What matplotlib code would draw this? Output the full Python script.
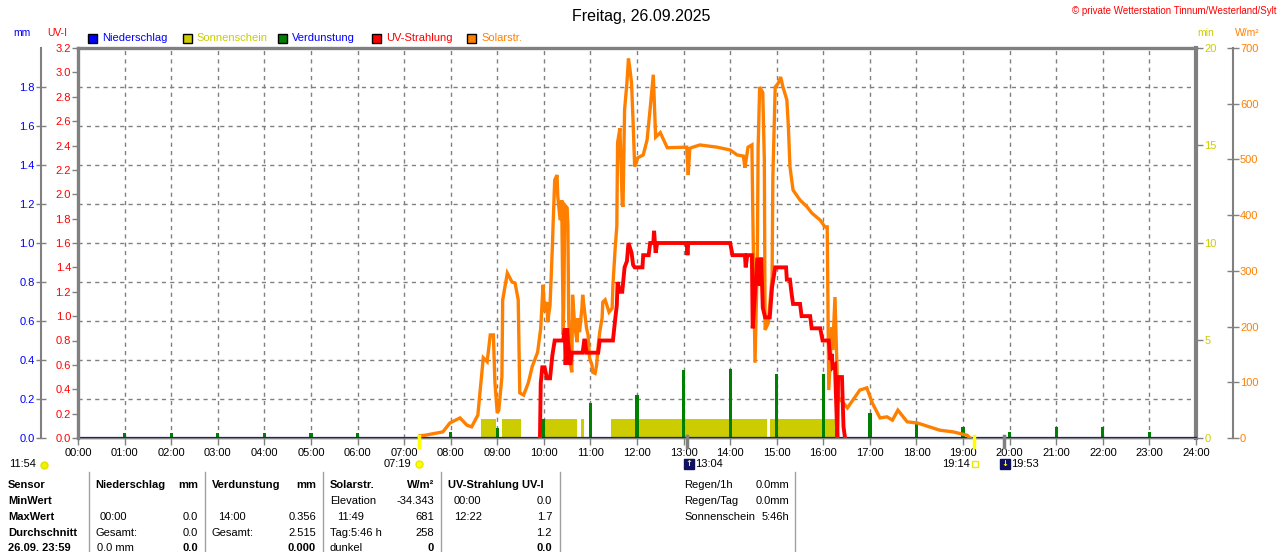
import matplotlib
matplotlib.use("Agg")
import matplotlib.pyplot as plt
import matplotlib.transforms as mtransforms
from matplotlib.patches import Rectangle
from matplotlib.lines import Line2D

plt.rcParams['font.family'] = ['Liberation Sans', 'DejaVu Sans']

# ---------------- data ----------------
TITLE = "Freitag, 26.09.2025"
COPYRIGHT = "© private Wetterstation Tinnum/Westerland/Sylt"

hour_labels = [f"{h:02d}:00" for h in range(25)]
mm_ticks = [0.0, 0.2, 0.4, 0.6, 0.8, 1.0, 1.2, 1.4, 1.6, 1.8]
uv_ticks = [0.0, 0.2, 0.4, 0.6, 0.8, 1.0, 1.2, 1.4, 1.6, 1.8, 2.0, 2.2, 2.4,
            2.6, 2.8, 3.0, 3.2]
min_ticks = [0, 5, 10, 15, 20]
wm2_ticks = [0, 100, 200, 300, 400, 500, 600, 700]

rain_times = ["00:00", "24:00"]
rain_values = [0.0, 0.0]

evap_times = ["01:00", "02:00", "03:00", "04:00", "05:00", "06:00", "08:00",
              "09:00", "10:00", "11:00", "12:00", "13:00", "14:00", "15:00",
              "16:00", "17:00", "18:00", "19:00", "20:00", "21:00", "22:00",
              "23:00"]
evap_values = [0.025, 0.025, 0.025, 0.025, 0.025, 0.025, 0.03, 0.05, 0.10,
               0.18, 0.22, 0.35, 0.356, 0.33, 0.33, 0.13, 0.08, 0.056, 0.03,
               0.055, 0.055, 0.03]

sun_start = ["08:39", "09:06", "10:00", "10:48", "11:27", "14:51"]
sun_end = ["08:59", "09:31", "10:43", "10:52", "14:48", "16:18"]
sun_minutes = [1, 1, 1, 1, 1, 1]

solar_times = ["07:19", "07:20", "07:27", "07:50", "07:59", "08:12", "08:21",
               "08:27", "08:35", "08:39", "08:42", "08:47", "08:51", "08:55",
               "08:57", "09:00", "09:02", "09:06", "09:07", "09:13", "09:19",
               "09:23", "09:27", "09:29", "09:34", "09:40", "09:45", "09:49",
               "09:52", "09:56", "09:59", "10:01", "10:04", "10:05", "10:08",
               "10:11", "10:12", "10:14", "10:17", "10:18", "10:21", "10:23",
               "10:25", "10:26", "10:27", "10:30", "10:31", "10:32", "10:34",
               "10:36", "10:37", "10:40", "10:43", "10:44", "10:46", "10:49",
               "10:50", "10:53", "10:55", "10:57", "10:59", "11:02", "11:03",
               "11:06", "11:08", "11:10", "11:12", "11:15", "11:16", "11:19",
               "11:21", "11:24", "11:28", "11:29", "11:32", "11:34", "11:35",
               "11:38", "11:41", "11:42", "11:44", "11:47", "11:49", "11:51",
               "11:53", "11:55", "11:57", "12:01", "12:08", "12:13", "12:17",
               "12:21", "12:24", "12:30", "12:39", "13:00", "13:04", "13:06",
               "13:08", "13:12", "13:21", "13:43", "14:00", "14:09", "14:17",
               "14:19", "14:23", "14:28", "14:29", "14:32", "14:35", "14:36",
               "14:38", "14:42", "14:44", "14:45", "14:49", "14:54", "14:55",
               "14:58", "15:02", "15:05", "15:08", "15:13", "15:15", "15:17",
               "15:21", "15:30", "15:39", "15:45", "15:56", "16:02", "16:05",
               "16:07", "16:11", "16:12", "16:15", "16:18", "16:19", "16:31",
               "16:38", "16:47", "16:56", "17:03", "17:13", "17:22", "17:29",
               "17:36", "17:48", "18:01", "18:30", "18:47", "19:05", "19:09"]
solar_values = [0, 4, 5, 11, 27, 36, 23,
                20, 41, 99, 144, 137, 185, 185,
                99, 45, 50, 110, 248, 296, 280,
                278, 248, 81, 77, 99, 128, 143,
                154, 197, 275, 226, 244, 208, 239,
                343, 386, 463, 472, 433, 391, 427,
                185, 275, 418, 413, 380, 215, 136,
                118, 257, 197, 172, 215, 190, 233,
                257, 221, 197, 185, 143, 131, 118,
                116, 131, 167, 190, 215, 244, 248,
                239, 226, 233, 275, 343, 380, 530,
                556, 420, 415, 589, 637, 681, 661,
                637, 566, 487, 503, 508, 535, 592,
                652, 540, 548, 521, 522, 522, 472,
                520, 522, 526, 522, 517, 508, 506,
                485, 522, 526, 420, 135, 320, 520,
                630, 620, 500, 194, 206, 289, 469,
                630, 637, 648, 630, 607, 558, 487,
                445, 427, 415, 404, 391, 379, 379,
                86, 199, 158, 253, 104, 74, 54,
                68, 86, 90, 63, 36, 38, 32,
                50, 29, 27, 14, 11, 5, 0]

uv_times = ["09:55", "09:56", "09:58", "10:01", "10:04", "10:08", "10:11",
            "10:14", "10:25", "10:27", "10:28", "10:30", "10:31", "10:34",
            "10:36", "10:50", "10:52", "10:53", "10:55", "11:10", "11:12",
            "11:29", "11:32", "11:34", "11:35", "11:38", "11:41", "11:44",
            "11:47", "11:49", "11:53", "11:55", "11:57", "12:07", "12:08",
            "12:15", "12:17", "12:21", "12:22", "12:24", "12:26", "13:04",
            "13:05", "13:06", "14:00", "14:03", "14:19", "14:20", "14:22",
            "14:28", "14:29", "14:32", "14:35", "14:38", "14:40", "14:42",
            "14:45", "14:51", "14:54", "14:58", "15:12", "15:13", "15:17",
            "15:19", "15:21", "15:30", "15:32", "15:43", "15:45", "15:56",
            "15:59", "16:07", "16:09", "16:11", "16:12", "16:15", "16:18",
            "16:19", "16:24", "16:26", "16:28"]
uv_values = [0.0, 0.45, 0.58, 0.58, 0.49, 0.49, 0.68,
             0.8, 0.8, 0.9, 0.6, 0.9, 0.8, 0.6,
             0.7, 0.7, 0.8, 0.8, 0.7, 0.7, 0.8,
             0.8, 0.98, 1.09, 1.28, 1.2, 1.2, 1.4,
             1.45, 1.6, 1.52, 1.42, 1.4, 1.4, 1.5,
             1.5, 1.6, 1.6, 1.7, 1.52, 1.6, 1.6,
             1.5, 1.6, 1.6, 1.5, 1.5, 1.4, 1.5,
             1.5, 0.9, 1.19, 1.48, 1.25, 1.48, 1.07,
             0.99, 0.99, 1.24, 1.4, 1.4, 1.3, 1.3,
             1.19, 1.1, 1.1, 1.0, 1.0, 0.9, 0.9,
             0.8, 0.8, 0.64, 0.69, 0.58, 0.6, 0.0,
             0.5, 0.5, 0.09, 0.0]

legend_labels = ["Niederschlag", "Sonnenschein", "Verdunstung", "UV-Strahlung", "Solarstr."]

sunrise, sunset = "07:19", "19:14"
moonrise, moonset = "13:04", "19:53"
daylight_label = "11:54"

table_rows = ["Sensor", "MinWert", "MaxWert", "Durchschnitt", "26.09. 23:59"]
side_labels = ["Regen/1h", "Regen/Tag", "Sonnenschein"]
side_values = ["0.0mm", "0.0mm", "5:46h"]


def hrs(s):
    h, m = s.split(":")
    return int(h) + int(m) / 60.0


# ---------------- colours ----------------
C_RAIN = "#0000FF"
C_SUN = "#CCCC00"
C_EVAP = "#008000"
C_UV = "#FF0000"
C_SOL = "#FF8000"
C_GRAY = "#808080"

W, H = 1280, 552


def fx(px):
    return px / W


def fy(py):
    return 1 - py / H


fig = plt.figure(figsize=(12.8, 5.52), dpi=100)
X0, X1, Y0, Y1 = 78, 1196, 48, 438
ax = fig.add_axes([fx(X0), fy(Y1), (X1 - X0) / W, (Y1 - Y0) / H])
ax_min = ax.twinx()
ax_mm = ax.twinx()
ax_w = ax.twinx()
for a, z in [(ax_min, 1), (ax_mm, 2), (ax_w, 3), (ax, 4)]:
    a.set_zorder(z)
    a.patch.set_visible(False)
    for sp in a.spines.values():
        sp.set_visible(False)

ax.set_xlim(0, 24)
ax.set_ylim(0, 3.2)
ax_mm.set_ylim(0, 2.0)
ax_min.set_ylim(0, 20)
ax_w.set_ylim(0, 700)

# grid (on a low layer)
for h in range(1, 24):
    ax_mm.axvline(h, color=C_GRAY, lw=1, ls=(0, (3, 3)), zorder=0)
for v in mm_ticks[1:]:
    ax_mm.axhline(v, color=C_GRAY, lw=1, ls=(0, (3, 3)), zorder=0)

# sunshine bars
starts = [hrs(s) for s in sun_start]
widths = [hrs(e) - hrs(s) for s, e in zip(sun_start, sun_end)]
ax_min.bar(starts, sun_minutes, width=widths, align="edge", color=C_SUN,
           linewidth=0, zorder=1)

# evaporation bars
ax_mm.bar([hrs(t) for t in evap_times], evap_values, width=0.07,
          color=C_EVAP, linewidth=0, zorder=2)
ax_mm.plot([hrs(t) for t in rain_times], rain_values, color="#0000C8",
           lw=1.6, clip_on=False, zorder=3)

# solar
ax_w.plot([hrs(t) for t in solar_times], solar_values, color=C_SOL, lw=2.4,
          solid_joinstyle="miter")
# UV
ax.plot([hrs(t) for t in uv_times], uv_values, color=C_UV, lw=2.8,
        solid_joinstyle="miter")

# ---------------- spines & ticks ----------------
ax.spines["left"].set_visible(True)
ax.spines["left"].set_color(C_GRAY)
ax.spines["left"].set_linewidth(2.4)
ax.spines["top"].set_visible(True)
ax.spines["top"].set_color(C_GRAY)
ax.spines["top"].set_linewidth(2.4)
ax.spines["bottom"].set_visible(True)
ax.spines["bottom"].set_color(C_GRAY)
ax.spines["bottom"].set_linewidth(1)

ax.set_xticks(range(25))
ax.set_xticklabels(hour_labels)
ax.tick_params(axis="x", direction="out", length=5, width=1, color=C_GRAY,
               labelsize=8, pad=2, labelcolor="black")
ax.set_yticks(uv_ticks)
ax.set_yticklabels([f"{v:.1f}" for v in uv_ticks])
ax.tick_params(axis="y", direction="out", length=4, width=1, color=C_GRAY,
               labelcolor=C_UV, labelsize=8, pad=1)

ax_mm.spines["left"].set_visible(True)
ax_mm.spines["left"].set_position(("axes", (41 - X0) / (X1 - X0)))
ax_mm.spines["left"].set_color(C_GRAY)
ax_mm.spines["left"].set_linewidth(1.5)
ax_mm.yaxis.set_ticks_position("left")
ax_mm.yaxis.set_label_position("left")
ax_mm.set_yticks(mm_ticks)
ax_mm.set_yticklabels([f"{v:.1f}" for v in mm_ticks])
ax_mm.tick_params(axis="y", direction="inout", length=7, width=1,
                  color=C_GRAY, labelcolor=C_RAIN, labelsize=8, pad=1)

ax_min.spines["right"].set_visible(True)
ax_min.spines["right"].set_color(C_GRAY)
ax_min.spines["right"].set_linewidth(3)
ax_min.set_yticks(min_ticks)
ax_min.set_yticklabels([str(v) for v in min_ticks])
ax_min.tick_params(axis="y", direction="out", length=5, width=1,
                   color=C_GRAY, labelcolor=C_SUN, labelsize=8, pad=1)

ax_w.spines["right"].set_visible(True)
ax_w.spines["right"].set_position(("axes", (1233 - X0) / (X1 - X0)))
ax_w.spines["right"].set_color(C_GRAY)
ax_w.spines["right"].set_linewidth(1.5)
ax_w.set_yticks(wm2_ticks)
ax_w.set_yticklabels([str(v) for v in wm2_ticks])
ax_w.tick_params(axis="y", direction="inout", length=8, width=1,
                 color=C_GRAY, labelcolor=C_SOL, labelsize=8, pad=1)

# ---------------- header texts ----------------
fig.text(fx(641), fy(16), TITLE, ha="center", va="center", fontsize=11.5)
fig.text(fx(1276), fy(11), COPYRIGHT, ha="right", va="center", fontsize=7,
         color=C_UV)
fig.text(fx(22), fy(33), "mm", ha="center", va="center", fontsize=7.5,
         color=C_RAIN)
fig.text(fx(57), fy(33), "UV-I", ha="center", va="center", fontsize=7.5,
         color=C_UV)
fig.text(fx(1206), fy(33), "min", ha="center", va="center", fontsize=7.5,
         color=C_SUN)
fig.text(fx(1247), fy(33), "W/m²", ha="center", va="center", fontsize=7.5,
         color=C_SOL)

legend_fill = [C_RAIN, C_SUN, C_EVAP, C_UV, C_SOL]
legend_text_col = [C_RAIN, C_SUN, C_RAIN, C_UV, C_SOL]
for i, (lab, fc, tc) in enumerate(zip(legend_labels, legend_fill, legend_text_col)):
    x = 88 + i * 94.8
    fig.add_artist(Rectangle((fx(x), fy(43)), 9 / W, 9 / H, facecolor=fc,
                             edgecolor="black", lw=1, transform=fig.transFigure))
    fig.text(fx(x + 14), fy(38), lab, ha="left", va="center", fontsize=8,
             color=tc)

# ---------------- event markers ----------------
blend = mtransforms.blended_transform_factory(ax.transData, fig.transFigure)
for t, col in [(sunrise, "#FFFF00"), (sunset, "#FFFF00"),
               (moonrise, C_GRAY), (moonset, C_GRAY)]:
    ax.plot([hrs(t), hrs(t)], [fy(436), fy(447)], transform=blend, color=col,
            lw=2.5, clip_on=False, zorder=5)


def off(dx):
    return mtransforms.offset_copy(blend, fig=fig, x=dx, y=0, units="dots")


fig.text(fx(9), fy(464), daylight_label, ha="left", va="center", fontsize=8)
fig.add_artist(Line2D([fx(44)], [fy(465)], marker="o", ms=5, color="#F0F000",
                      mec="#E0E000", transform=fig.transFigure))
fig.text(hrs(sunrise), fy(464), sunrise, ha="right", va="center", fontsize=8,
         transform=off(-8))
fig.add_artist(Line2D([hrs(sunrise)], [fy(464)], marker="o", ms=5,
                      color="#FFFF00", mec="#E8E800", transform=off(0)))
fig.text(hrs(sunset), fy(464), sunset, ha="right", va="center", fontsize=8,
         transform=off(-4))
fig.add_artist(Line2D([hrs(sunset)], [fy(464)], marker="s", ms=4,
                      mfc="white", mec="#E8E800", transform=off(1)))
for t, arrow, dx in [(moonrise, "↑", 2), (moonset, "↓", 1)]:
    fig.add_artist(Line2D([hrs(t)], [fy(464)], marker="s", ms=7,
                          color="#101060", mec="#101060", transform=off(dx)))
    fig.text(hrs(t), fy(464), arrow, ha="center", va="center", fontsize=6,
             color="#FFFF00", family="DejaVu Sans", fontweight="bold",
             transform=off(dx))
    fig.text(hrs(t), fy(464), t, ha="left", va="center", fontsize=8,
             transform=off(dx + 6))

# ---------------- table ----------------
ROW_Y = [485, 501, 517, 533, 548]
for xs in [89, 205, 323, 441, 560, 795]:
    fig.add_artist(Line2D([fx(xs), fx(xs)], [fy(472), fy(552)], color="#A0A0A0",
                          lw=1, transform=fig.transFigure))
FS = 8
for lab, y in zip(table_rows, ROW_Y):
    fig.text(fx(8), fy(y), lab, ha="left", va="center", fontsize=FS,
             fontweight="bold")


def cell(x, y, s, ha="left", bold=False):
    fig.text(fx(x), fy(y), s, ha=ha, va="center", fontsize=FS,
             fontweight="bold" if bold else "normal")


cell(95, ROW_Y[0], "Niederschlag", bold=True)
cell(198, ROW_Y[0], "mm", "right", True)
cell(100, ROW_Y[2], "00:00")
cell(198, ROW_Y[2], "0.0", "right")
cell(95, ROW_Y[3], "Gesamt:")
cell(198, ROW_Y[3], "0.0", "right")
cell(97, ROW_Y[4], "0.0 mm")
cell(198, ROW_Y[4], "0.0", "right", True)

cell(212, ROW_Y[0], "Verdunstung", bold=True)
cell(316, ROW_Y[0], "mm", "right", True)
cell(218, ROW_Y[2], "14:00")
cell(316, ROW_Y[2], "0.356", "right")
cell(212, ROW_Y[3], "Gesamt:")
cell(316, ROW_Y[3], "2.515", "right")
cell(316, ROW_Y[4], "0.000", "right", True)

cell(330, ROW_Y[0], "Solarstr.", bold=True)
cell(434, ROW_Y[0], "W/m²", "right", True)
cell(330, ROW_Y[1], "Elevation")
cell(434, ROW_Y[1], "-34.343", "right")
cell(337, ROW_Y[2], "11:49")
cell(434, ROW_Y[2], "681", "right")
cell(330, ROW_Y[3], "Tag:5:46 h")
cell(434, ROW_Y[3], "258", "right")
cell(330, ROW_Y[4], "dunkel")
cell(434, ROW_Y[4], "0", "right", True)

cell(448, ROW_Y[0], "UV-Strahlung UV-I", bold=True)
cell(454, ROW_Y[1], "00:00")
cell(552, ROW_Y[1], "0.0", "right")
cell(454, ROW_Y[2], "12:22")
cell(552, ROW_Y[2], "1.7", "right")
cell(552, ROW_Y[3], "1.2", "right")
cell(552, ROW_Y[4], "0.0", "right", True)

for lab, val, y in zip(side_labels, side_values, ROW_Y[:3]):
    cell(684, y, lab)
    cell(789, y, val, "right")

fig.savefig("out.png", dpi=100, facecolor="white")
